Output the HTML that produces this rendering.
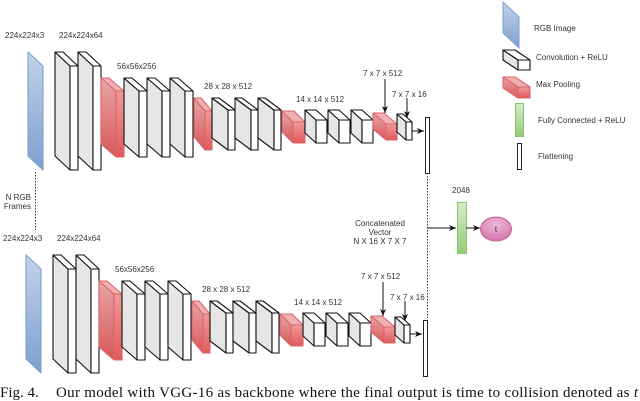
<!DOCTYPE html>
<html><head><meta charset="utf-8"><style>
html,body{margin:0;padding:0;background:#fff;width:640px;height:401px;overflow:hidden}
svg{display:block}
.l{font-family:"Liberation Sans",sans-serif;font-size:8px;fill:#333}
.cap{font-family:"Liberation Serif",serif;font-size:15px;fill:#111}
</style></head><body>
<svg id="s" width="640" height="401" viewBox="0 0 640 401" xmlns="http://www.w3.org/2000/svg">
<defs>
<linearGradient id="red" x1="0" y1="0" x2="0" y2="1"><stop offset="0" stop-color="#e8a6a6"/><stop offset="1" stop-color="#d9575a"/></linearGradient>
<linearGradient id="redf" x1="0" y1="0" x2="0" y2="1"><stop offset="0" stop-color="#f09a9a"/><stop offset="1" stop-color="#e05a5c"/></linearGradient>
<linearGradient id="blue" x1="0" y1="0" x2="0" y2="1"><stop offset="0" stop-color="#c3d3ea"/><stop offset="1" stop-color="#7d9fcf"/></linearGradient>
<linearGradient id="green" x1="0" y1="0" x2="0" y2="1"><stop offset="0" stop-color="#d6ecc8"/><stop offset="1" stop-color="#93cc78"/></linearGradient>
<radialGradient id="pink" cx="0.5" cy="0.3" r="0.7"><stop offset="0" stop-color="#f0b8d8"/><stop offset="1" stop-color="#d476a8"/></radialGradient>
<marker id="ah" markerWidth="8" markerHeight="8" refX="7" refY="4" orient="auto" markerUnits="userSpaceOnUse"><path d="M0,1 L7,4 L0,7 L2,4 Z" fill="#111"/></marker>
</defs>
<g id="net"></g>

<text class="l" x="5" y="38">224x224x3</text>
<text class="l" x="59" y="38">224x224x64</text>
<text class="l" x="117" y="69">56x56x256</text>
<text class="l" x="204" y="89">28 x 28 x 512</text>
<text class="l" x="296" y="102">14 x 14 x 512</text>
<text class="l" x="363" y="76">7 x 7 x 512</text>
<text class="l" x="392" y="97">7 x 7 x 16</text>
<line x1="385" y1="79" x2="385" y2="113" stroke="#111" stroke-width="1" marker-end="url(#ah)"/>
<line x1="407" y1="98" x2="407" y2="118" stroke="#111" stroke-width="1" marker-end="url(#ah)"/>
<line x1="412" y1="131" x2="424" y2="131" stroke="#111" stroke-width="1" marker-end="url(#ah)"/>
<rect x="425.5" y="117.5" width="4" height="56" fill="#fff" stroke="#222"/>

<text class="l" x="3" y="241">224x224x3</text>
<text class="l" x="57" y="241">224x224x64</text>
<text class="l" x="115" y="272">56x56x256</text>
<text class="l" x="202" y="292">28 x 28 x 512</text>
<text class="l" x="294" y="305">14 x 14 x 512</text>
<text class="l" x="361" y="279">7 x 7 x 512</text>
<text class="l" x="390" y="300">7 x 7 x 16</text>
<line x1="383" y1="282" x2="383" y2="316" stroke="#111" stroke-width="1" marker-end="url(#ah)"/>
<line x1="405" y1="301" x2="405" y2="321" stroke="#111" stroke-width="1" marker-end="url(#ah)"/>
<line x1="410" y1="334" x2="422" y2="334" stroke="#111" stroke-width="1" marker-end="url(#ah)"/>
<rect x="423.5" y="320.5" width="4" height="56" fill="#fff" stroke="#222"/>

<line x1="35.5" y1="172" x2="35.5" y2="230" stroke="#333" stroke-dasharray="1.5,1.5"/>
<text class="l" x="31" y="200" text-anchor="end">N RGB</text>
<text class="l" x="31" y="209" text-anchor="end">Frames</text>
<line x1="427.5" y1="176" x2="427.5" y2="318" stroke="#333" stroke-dasharray="1.5,1.5"/>
<line x1="427" y1="228" x2="456" y2="228" stroke="#111" marker-end="url(#ah)"/>
<rect x="457.5" y="202.5" width="9" height="51" fill="url(#green)" stroke="#8cc56f"/>
<text class="l" x="461" y="193" text-anchor="middle">2048</text>
<line x1="466" y1="228" x2="480" y2="228" stroke="#111" marker-end="url(#ah)"/>
<ellipse cx="496" cy="229" rx="15.5" ry="12" fill="url(#pink)" stroke="#c0609a"/>
<text class="l" x="496" y="232" text-anchor="middle" fill="#222">t</text>
<text class="l" x="380" y="226" text-anchor="middle">Concatenated</text>
<text class="l" x="380" y="235" text-anchor="middle">Vector</text>
<text class="l" x="380" y="244" text-anchor="middle">N X 16 X 7 X 7</text>

<polygon points="503,2 519,17 519,48 503,33" fill="url(#blue)" stroke="#7d9fcf"/>
<text class="l" x="534" y="31">RGB Image</text>
<text class="l" x="536" y="60">Convolution + ReLU</text>
<text class="l" x="536" y="87">Max Pooling</text>
<rect x="515.5" y="103.5" width="8" height="33" fill="url(#green)" stroke="#8cc56f"/>
<text class="l" x="538" y="123">Fully Connected + ReLU</text>
<rect x="517.5" y="143.5" width="4" height="26" fill="#fff" stroke="#222"/>
<text class="l" x="538" y="159">Flattening</text>

<text class="cap" x="0" y="397">Fig. 4.</text>
<text class="cap" x="56" y="397" textLength="582" lengthAdjust="spacing">Our model with VGG-16 as backbone where the final output is time to collision denoted as <tspan font-style="italic">t</tspan></text>
</svg>
<script>
var g=document.getElementById('net'),NS="http://www.w3.org/2000/svg";
function poly(pts,fill,stroke){var p=document.createElementNS(NS,'polygon');p.setAttribute('points',pts.map(function(a){return a.join(',')}).join(' '));p.setAttribute('fill',fill);p.setAttribute('stroke',stroke);p.setAttribute('stroke-width','1.1');p.setAttribute('stroke-linejoin','round');g.appendChild(p);}
function box(x,y,dx,dy,fw,h,red){
 var st=red?'#d9666a':'#111',side=red?'url(#red)':'#e6e6e6',front=red?'url(#redf)':'#fff',top=red?'#eeb0b0':'#fff';
 poly([[x,y],[x+dx,y+dy],[x+dx,y+dy+h],[x,y+h]],side,st);
 poly([[x,y],[x+fw,y],[x+dx+fw,y+dy],[x+dx,y+dy]],top,st);
 poly([[x+dx,y+dy],[x+dx+fw,y+dy],[x+dx+fw,y+dy+h],[x+dx,y+dy+h]],front,st);
}
function row(ox,oy){
 poly([[28+ox,52+oy],[43+ox,66+oy],[43+ox,170+oy],[28+ox,156+oy]],'url(#blue)','#7d9fcf');
 box(55+ox,52+oy,15,14,8,104);box(78+ox,52+oy,15,14,8,104);
 box(101+ox,78+oy,15,13,8,66,1);
 [124,147,170].forEach(function(x){box(x+ox,78+oy,15,13,8,66)});
 box(194+ox,98+oy,11,13,7,39,1);
 [212,235,258].forEach(function(x){box(x+ox,98+oy,16,12,7,40)});
 box(282+ox,111+oy,11,11,12,21,1);
 [305,328,351].forEach(function(x){box(x+ox,110+oy,11,10,11,23)});
 box(373+ox,113+oy,13,11,11,16,1);
 box(397+ox,114+oy,9,8,6,18);
}
row(0,0);row(-2,203);
box(503,50,15,10,12,10);
box(503,77,15,10,12,11,1);
</script>
</body></html>
